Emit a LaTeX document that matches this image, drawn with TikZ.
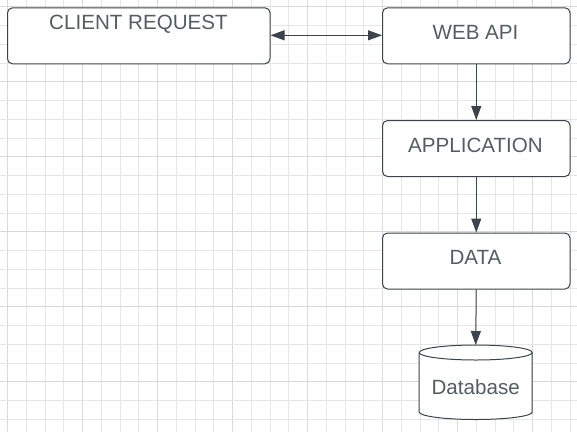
\documentclass[tikz,border=0pt]{standalone}
\usepackage{fontspec}
\setmainfont{Liberation Sans}
\usetikzlibrary{arrows.meta}
\definecolor{strk}{HTML}{3D434B}
\definecolor{txt}{HTML}{575C64}
\definecolor{gridc}{HTML}{E6E6E6}
\definecolor{gridd}{HTML}{D9D9D9}
\tikzset{
  boxnode/.style={draw=strk, line width=1pt, rounded corners=5pt, fill=white, inner sep=0pt,
    minimum width=187.5pt, minimum height=56pt, anchor=north west},
  lbl/.style={text=txt, font=\fontsize{20.6}{24}\selectfont, inner sep=0pt, anchor=center},
  conn/.style={draw=strk, line width=1pt, -{Triangle[length=14pt,width=10pt]}},
  dconn/.style={draw=strk, line width=1pt, {Triangle[length=14pt,width=10pt]}-{Triangle[length=14pt,width=10pt]}}
}
\begin{document}
\begin{tikzpicture}[x=1pt,y=-1pt]
\useasboundingbox (0,0) rectangle (577,432);
\fill[white] (0,0) rectangle (577,432);
% grid
\foreach \i in {0,...,30} {
  \pgfmathsetmacro{\xx}{7.5+\i*18.75}
  \pgfmathtruncatemacro{\m}{mod(\i,4)}
  \ifnum\m=0 \draw[gridd,line width=0.9pt] (\xx,0) -- (\xx,432);
  \else \draw[gridc,line width=0.9pt] (\xx,0) -- (\xx,432); \fi
}
\foreach \j in {0,...,22} {
  \pgfmathsetmacro{\yy}{6.8+\j*18.75}
  \pgfmathtruncatemacro{\m}{mod(\j,4)}
  \ifnum\m=0 \draw[gridd,line width=0.9pt] (0,\yy) -- (577,\yy);
  \else \draw[gridc,line width=0.9pt] (0,\yy) -- (577,\yy); \fi
}
% boxes
\node[boxnode, minimum width=262.5pt] (client) at (7,7.3) {};
\node[boxnode] (web) at (382,7.3) {};
\node[boxnode] (app) at (382,120) {};
\node[boxnode] (data) at (382,232.5) {};
% labels
\node[lbl] (tclient) at (138.5,24.5) {CLIENT REQUEST};
\node[lbl] (tweb) at (475.5,32.5) {WEB API};
\node[lbl] (tapp) at (475.5,145) {APPLICATION};
\node[lbl] (tdata) at (475.5,257.5) {DATA};
% database cylinder
\coordinate (dbtop) at (475.7,345);
\filldraw[draw=strk, fill=white, line width=1pt]
  (419.2,352.5) arc[start angle=180, end angle=360, x radius=56.5, y radius=7.5]
  -- (532.2,412) arc[start angle=0, end angle=180, x radius=56.5, y radius=7.5]
  -- cycle;
\draw[strk, line width=1pt] (419.2,352.5) arc[start angle=180, end angle=0, x radius=56.5, y radius=7.5];
\node[lbl] (db) at (475.7,386.8) {Database};
% connectors
\draw[dconn] (client.east |- 0,35.3) -- (web.west |- 0,35.3);
\draw[conn] (web.south) -- (app.north);
\draw[conn] (app.south) -- (data.north);
\draw[conn] (data.south) -- (dbtop);
\end{tikzpicture}
\end{document}
